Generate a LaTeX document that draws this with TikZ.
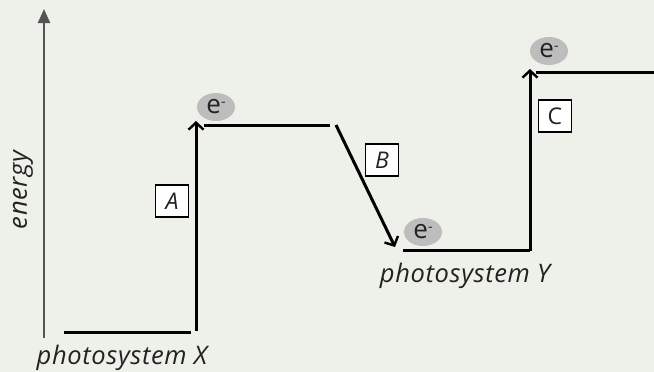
\documentclass[tikz,border=0pt]{standalone}
\usepackage{fontspec}
\setmainfont{Open Sans}
\usetikzlibrary{arrows.meta,shapes.geometric}
\definecolor{bg}{HTML}{EEF0EA}
\definecolor{axisgray}{HTML}{555555}
\definecolor{egray}{HTML}{BDBDBD}
\definecolor{txt}{HTML}{222222}
\newcommand{\lblfont}{\fontsize{25.5}{27}\selectfont\itshape\addfontfeatures{LetterSpace=2.5}}
\newcommand{\esym}{e\raisebox{0.55ex}{\fontsize{14}{14}\selectfont -}}
\tikzset{
  level/.style={line width=3pt, black},
  jump/.style={line width=3pt, black, -{Straight Barb[length=7pt,width=15pt,line width=2.4pt]}},
  letterbox/.style={draw, line width=1.1pt, fill=white, minimum width=33pt, minimum height=32pt, inner sep=0pt, text=txt, font=\fontsize{23}{24}\selectfont\itshape},
  electron/.style={ellipse, fill=egray, minimum width=38pt, minimum height=28pt, inner sep=0pt, text=txt, font=\fontsize{26}{26}\selectfont},
  pslabel/.style={font=\lblfont, text=txt}
}
\begin{document}
\begin{tikzpicture}[x=1pt,y=-1pt]
\fill[bg] (0,0) rectangle (654,372);
\useasboundingbox (0,0) rectangle (654,372);
% axis
\coordinate (axb) at (44,338);
\coordinate (axt) at (44,9);
\draw[axisgray, line width=2.2pt, -{Triangle[length=14pt,width=12pt]}] (axb) -- (axt);
\node[rotate=90, pslabel] (energy) at (23,190) {energy};
% photosystem X
\coordinate (x1) at (64,332);
\coordinate (x2) at (191,332);
\draw[level] (x1) -- (x2);
\node[pslabel] (psx) at (122,358) {photosystem X};
% arrow A
\coordinate (a0) at (196,331);
\coordinate (a1) at (196,121);
\draw[jump] (a0) -- (a1);
\node[letterbox] (A) at (172,201) {A};
% excited X level
\coordinate (h1) at (204,125);
\coordinate (h2) at (330,125);
\draw[level] (h1) -- (h2);
\node[electron] (e1) at (216,107) {\esym};
% arrow B
\coordinate (b0) at (336,125);
\coordinate (b1) at (395,247);
\draw[jump] (b0) -- (b1);
\node[letterbox] (B) at (382,160) {B};
% photosystem Y
\coordinate (y1) at (403,250);
\coordinate (y2) at (530,250);
\draw[level] (y1) -- (y2);
\node[electron] (e2) at (423,232) {\esym};
\node[pslabel] (psy) at (465,276) {photosystem Y};
% arrow C
\coordinate (c0) at (530,251);
\coordinate (c1) at (530,69);
\draw[jump] (c0) -- (c1);
\node[letterbox, font=\fontsize{23}{24}\selectfont] (C) at (555,116) {C};
% excited Y level
\coordinate (t1) at (536,72);
\coordinate (t2) at (654,72);
\draw[level] (t1) -- (t2);
\node[electron] (e3) at (549,51) {\esym};
\end{tikzpicture}
\end{document}
